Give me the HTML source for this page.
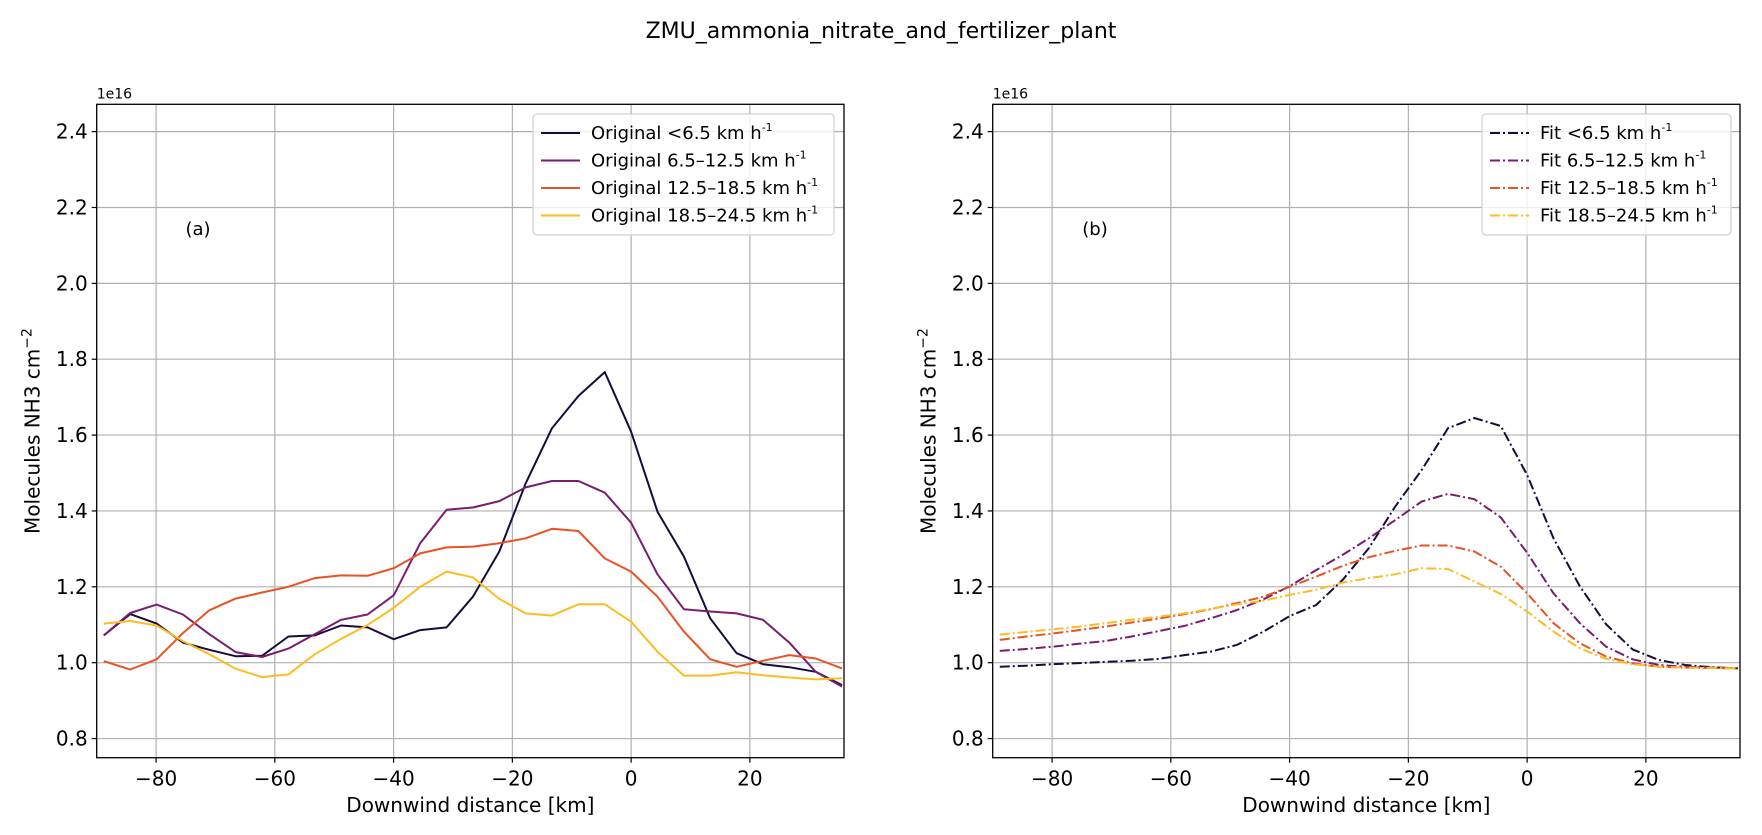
<!DOCTYPE html>
<html><head><meta charset="utf-8"><style>
body{margin:0;background:#fff;}
svg{display:block;font-family:"DejaVu Sans","Liberation Sans",sans-serif;}
</style></head><body>
<svg id="fig" width="1762" height="835" xmlns="http://www.w3.org/2000/svg">
<rect width="1762" height="835" fill="#fff"/>
<text x="881" y="38" font-size="22" text-anchor="middle">ZMU_ammonia_nitrate_and_fertilizer_plant</text>
</svg>
<script>
const xKm = [-88.8,-84.36,-79.92,-75.48,-71.04,-66.6,-62.16,-57.72,-53.28,-48.84,-44.4,-39.96,-35.52,-31.08,-26.64,-22.2,-17.76,-13.32,-8.88,-4.44,0,4.44,8.88,13.32,17.76,22.2,26.64,31.08,35.52];
const origLt65 = [1.072,1.128,1.103,1.053,1.034,1.017,1.018,1.069,1.072,1.098,1.093,1.062,1.086,1.093,1.174,1.293,1.473,1.618,1.703,1.766,1.609,1.398,1.280,1.117,1.025,0.996,0.988,0.976,0.941];
const orig65 = [1.072,1.131,1.153,1.127,1.075,1.028,1.015,1.037,1.075,1.113,1.127,1.178,1.315,1.403,1.409,1.426,1.462,1.479,1.479,1.448,1.369,1.233,1.141,1.135,1.130,1.113,1.053,0.976,0.937];
const orig125 = [1.004,0.982,1.009,1.078,1.138,1.169,1.185,1.200,1.223,1.230,1.229,1.249,1.288,1.304,1.306,1.315,1.328,1.353,1.347,1.275,1.240,1.174,1.082,1.009,0.989,1.005,1.020,1.011,0.985];
const orig185 = [1.103,1.110,1.098,1.057,1.022,0.984,0.962,0.969,1.022,1.063,1.099,1.145,1.200,1.240,1.225,1.168,1.130,1.124,1.154,1.154,1.108,1.029,0.966,0.966,0.975,0.967,0.961,0.956,0.959];
const fitLt65 = [0.989,0.992,0.996,0.999,1.002,1.005,1.010,1.020,1.029,1.047,1.082,1.123,1.152,1.218,1.302,1.412,1.508,1.618,1.645,1.624,1.495,1.328,1.201,1.101,1.035,1.007,0.994,0.988,0.985];
const fit65 = [1.031,1.036,1.042,1.050,1.057,1.069,1.083,1.097,1.117,1.139,1.167,1.202,1.244,1.284,1.328,1.376,1.425,1.445,1.431,1.383,1.290,1.183,1.104,1.042,1.009,0.994,0.989,0.987,0.985];
const fit125 = [1.060,1.069,1.077,1.086,1.095,1.106,1.116,1.128,1.141,1.157,1.174,1.200,1.227,1.255,1.278,1.295,1.309,1.309,1.293,1.253,1.183,1.104,1.051,1.016,0.998,0.989,0.987,0.986,0.985];
const fit185 = [1.074,1.081,1.088,1.095,1.104,1.113,1.121,1.130,1.142,1.154,1.163,1.179,1.192,1.211,1.223,1.233,1.249,1.247,1.214,1.181,1.135,1.082,1.038,1.010,0.996,0.989,0.987,0.986,0.985];
const xTicks = [-80,-60,-40,-20,0,20];
const yTicks = [0.8,1.0,1.2,1.4,1.6,1.8,2.0,2.2,2.4];
const origNames = ["Original <6.5 km h","Original 6.5\u201312.5 km h","Original 12.5\u201318.5 km h","Original 18.5\u201324.5 km h"];
const fitNames = ["Fit <6.5 km h","Fit 6.5\u201312.5 km h","Fit 12.5\u201318.5 km h","Fit 18.5\u201324.5 km h"];
const colors = ["#170c3a","#7a1d6d","#e95224","#fbbd22"];

const NS="http://www.w3.org/2000/svg";
const svg=document.getElementById('fig');
function mk(tag,attrs,parent){const e=document.createElementNS(NS,tag);for(const k in attrs)e.setAttribute(k,attrs[k]);(parent||svg).appendChild(e);return e;}

function panel(left,key,series,dash,letter,letterX,names,leg){
  const right=left+747.3, top=104.3, bottom=757.7;
  const xmin=-90, xmax=35.85, ymin=0.7495, ymax=2.472;
  const X=v=>left+(v-xmin)/(xmax-xmin)*(right-left);
  const Y=v=>bottom-(v-ymin)/(ymax-ymin)*(bottom-top);
  const g=mk('g',{});
  
  
  xTicks.forEach(t=>{
    const l=mk('line',{x1:X(t),x2:X(t),y1:top,y2:bottom,stroke:'#b0b0b0','stroke-width':1.2},g);
    
    mk('line',{x1:X(t),x2:X(t),y1:bottom,y2:bottom+5,stroke:'#000','stroke-width':1.2},g);
    const tx=mk('text',{x:X(t),y:bottom+28,'font-size':20,'text-anchor':'middle'},g);
    tx.textContent=t<0?'\u2212'+Math.abs(t):String(t);
    
  });
  yTicks.forEach(t=>{
    const l=mk('line',{x1:left,x2:right,y1:Y(t),y2:Y(t),stroke:'#b0b0b0','stroke-width':1.2},g);
    
    mk('line',{x1:left-5,x2:left,y1:Y(t),y2:Y(t),stroke:'#000','stroke-width':1.2},g);
    const tx=mk('text',{x:left-9,y:Y(t)+7,'font-size':20,'text-anchor':'end'},g);
    tx.textContent=t.toFixed(1);
    
  });
  series.forEach((s,i)=>{
    const d=s.map((v,j)=>(j?'L':'M')+X(xKm[j]).toFixed(1)+','+Y(v).toFixed(1)).join('');
    const p=mk('path',{d:d,fill:'none',stroke:colors[i],'stroke-width':2,'stroke-linejoin':'round'},g);
    if(dash)p.setAttribute('stroke-dasharray','10,3,2,3');
    
    
  });
  const fr=mk('rect',{x:left,y:top,width:right-left,height:bottom-top,fill:'none',stroke:'#000','stroke-width':1.3},g);
  
  const ex=mk('text',{x:left,y:top-6,'font-size':14},g);ex.textContent='1e16';
  
  const pl=mk('text',{x:letterX,y:235,'font-size':18,'text-anchor':'middle'},g);pl.textContent=letter;
  
  const xl=mk('text',{x:(left+right)/2,y:812,'font-size':20,'text-anchor':'middle'},g);xl.textContent='Downwind distance [km]';
  
  const yl=mk('text',{x:0,y:0,'font-size':20,'text-anchor':'middle',transform:`translate(${left-57},${(top+bottom)/2}) rotate(-90)`},g);
  yl.textContent='Molecules NH3 cm';
  const sup=mk('tspan',{'font-size':14,dy:-8},yl);sup.textContent='\u22122';
  
  const lg=mk('g',{},g);
  
  mk('rect',{x:leg.x,y:leg.y,width:leg.w,height:121,rx:4,fill:'#fff','fill-opacity':0.8,stroke:'#d0d0d0','stroke-width':1.2},lg);
  names.forEach((n,i)=>{
    const yy=leg.y+19+i*27.5;
    const ln=mk('line',{x1:leg.x+8,x2:leg.x+47,y1:yy,y2:yy,stroke:colors[i],'stroke-width':2},lg);
    if(dash)ln.setAttribute('stroke-dasharray','10,3,2,3');
    const t=mk('text',{x:leg.x+58,y:yy+6,'font-size':18},lg);
    t.textContent=n;
    const s=mk('tspan',{'font-size':11,dy:-8},t);s.textContent='-1';
    
  });
}
panel(96.7,'original',[origLt65,orig65,orig125,orig185],false,'(a)',198,origNames,{x:533,y:114,w:301});
panel(992.7,'fit',[fitLt65,fit65,fit125,fit185],true,'(b)',1095,fitNames,{x:1482,y:114,w:249});
</script>
</body></html>
